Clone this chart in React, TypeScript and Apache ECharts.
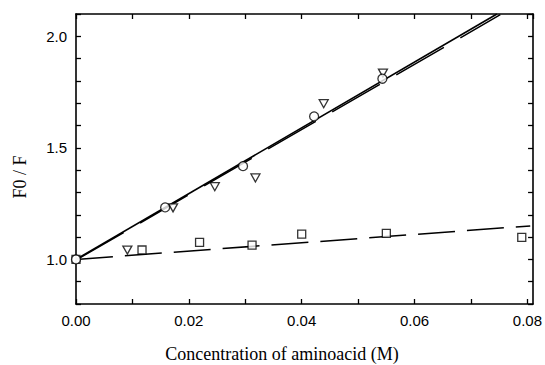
import React, { useEffect, useRef } from "react";
import * as echarts from "echarts";

// Measured data (concentration in M, F0/F)
const circleX = [0, 0.0158, 0.0296, 0.0422, 0.0543];
const circleY = [1.0, 1.233, 1.418, 1.641, 1.81];

const triangleX = [0.0091, 0.0172, 0.0246, 0.0318, 0.0439, 0.0544];
const triangleY = [1.042, 1.231, 1.326, 1.365, 1.698, 1.835];

const squareX = [0, 0.0117, 0.0219, 0.0312, 0.04, 0.055, 0.079];
const squareY = [1.0, 1.042, 1.076, 1.064, 1.113, 1.117, 1.099];

// Fitted lines (end points)
const fitCircleX = [0, 0.0746];
const fitCircleY = [1.0, 2.1];
const fitTriangleX = [0, 0.0752];
const fitTriangleY = [0.997, 2.097];
const fitSquareX = [0, 0.0805];
const fitSquareY = [1.0, 1.15];

const xTitle = "Concentration of aminoacid (M)";
const yTitle = "F0 / F";

const zip = (xs: number[], ys: number[]) => xs.map((x, i) => [x, ys[i]]);

export default function App() {
  const ref = useRef<HTMLDivElement>(null);
  useEffect(() => {
    if (!ref.current) return;
    const chart = echarts.init(ref.current, undefined, { renderer: "svg" });
    const labelFont = { fontFamily: "Liberation Sans", fontSize: 15, color: "#000" };
    const axisLine = { show: true, onZero: false, lineStyle: { color: "#000", width: 1.6 } };
    const axisTick = { show: true, inside: true, length: 5, lineStyle: { color: "#000", width: 1.3 } };
    const xFmt = (v: number) => {
      const k = Math.round(v * 100);
      if (Math.abs(v * 100 - k) < 1e-6 && k % 2 === 0) return v.toFixed(2);
      return "";
    };
    const yFmt = (v: number) => {
      const k = Math.round(v * 10);
      if (Math.abs(v * 10 - k) < 1e-6 && k % 5 === 0 && k >= 10) return (k / 10).toFixed(1);
      return "";
    };
    const marker = { color: "#fff", borderColor: "#000", borderWidth: 1.3 };
    chart.setOption({
      animation: false,
      backgroundColor: "#fff",
      grid: { left: 76, right: 9, top: 14, bottom: 61 },
      xAxis: [
        {
          type: "value",
          min: 0,
          max: 0.081,
          interval: 0.01,
          position: "bottom",
          axisLine,
          axisTick,
          splitLine: { show: false },
          axisLabel: { ...labelFont, margin: 9, formatter: xFmt, showMaxLabel: false },
        },
        {
          type: "value",
          min: 0,
          max: 0.081,
          interval: 0.01,
          position: "top",
          axisLine,
          axisTick,
          splitLine: { show: false },
          axisLabel: { show: false },
        },
      ],
      yAxis: [
        {
          type: "value",
          min: 0.8,
          max: 2.1,
          interval: 0.1,
          position: "left",
          axisLine,
          axisTick,
          splitLine: { show: false },
          axisLabel: { ...labelFont, margin: 9, formatter: yFmt },
        },
        {
          type: "value",
          min: 0.8,
          max: 2.1,
          interval: 0.1,
          position: "right",
          axisLine,
          axisTick,
          splitLine: { show: false },
          axisLabel: { show: false },
        },
      ],
      graphic: [
        {
          type: "text",
          x: 282,
          y: 354,
          style: {
            text: xTitle,
            font: '18px "Liberation Serif"',
            fill: "#000",
            textAlign: "center",
            textVerticalAlign: "middle",
          },
        },
        {
          type: "text",
          x: 20,
          y: 177,
          rotation: Math.PI / 2,
          style: {
            text: yTitle,
            font: '18px "Liberation Serif"',
            fill: "#000",
            textAlign: "center",
            textVerticalAlign: "middle",
          },
        },
      ],
      series: [
        {
          type: "line",
          data: zip(fitCircleX, fitCircleY),
          showSymbol: false,
          lineStyle: { color: "#000", width: 1.6, type: "solid" },
          z: 1,
        },
        {
          type: "line",
          data: zip(fitTriangleX, fitTriangleY),
          showSymbol: false,
          lineStyle: { color: "#000", width: 1.5, type: [55, 19] },
          z: 1,
        },
        {
          type: "line",
          data: zip(fitSquareX, fitSquareY),
          showSymbol: false,
          lineStyle: { color: "#000", width: 1.5, type: [37, 12] },
          z: 1,
        },
        {
          type: "scatter",
          data: zip(squareX, squareY),
          symbol: "rect",
          symbolSize: 8,
          itemStyle: marker,
          z: 3,
        },
        {
          type: "scatter",
          data: zip(triangleX, triangleY),
          symbol: "triangle",
          symbolRotate: 180,
          symbolSize: [9, 8],
          itemStyle: marker,
          z: 3,
        },
        {
          type: "scatter",
          data: zip(circleX, circleY),
          symbol: "circle",
          symbolSize: 9,
          itemStyle: marker,
          z: 3,
        },
      ],
    });
    return () => chart.dispose();
  }, []);
  return (
    <div
      ref={ref}
      style={{ position: "fixed", left: 0, top: 0, width: 545, height: 365, background: "#fff" }}
    />
  );
}
